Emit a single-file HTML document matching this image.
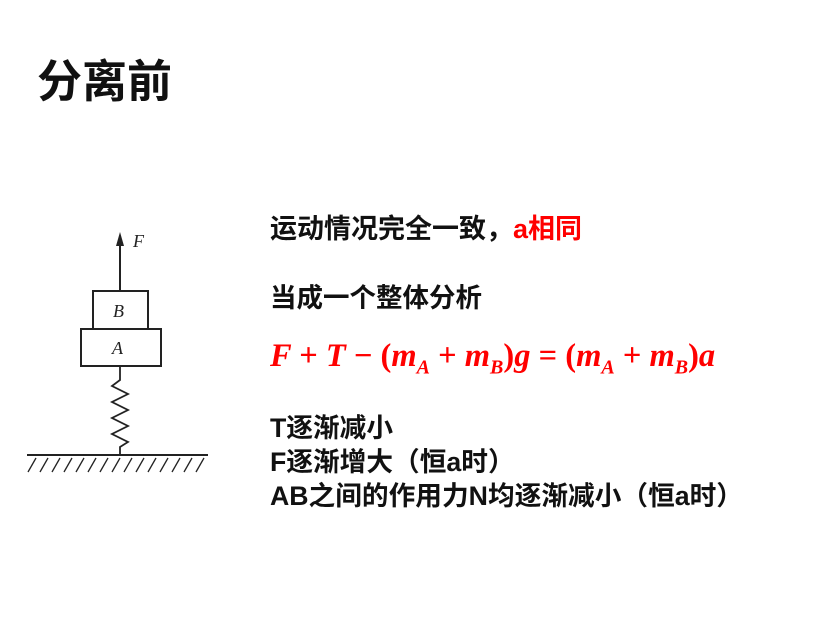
<!DOCTYPE html>
<html><head><meta charset="utf-8"><style>
body{margin:0;width:838px;height:624px;background:#fff;position:relative;overflow:hidden;font-family:"Liberation Sans","Noto Sans CJK SC",sans-serif;}
.t{position:absolute;white-space:nowrap;font-weight:bold;color:#111;}
.m{font-family:"Liberation Serif",serif;font-style:italic;font-weight:bold;color:#f00;}
</style></head><body>
<div class="t" style="left:37px;top:45px;font-size:45px;">分离前</div>
<div class="t" style="left:270px;top:207px;font-size:27px;">运动情况完全一致，<span style="color:#f00">a相同</span></div>
<div class="t" style="left:270px;top:276px;font-size:26.5px;">当成一个整体分析</div>
<div class="t m" style="left:270px;top:338px;font-size:32.5px;">F <span style="font-style:normal">+</span> T <span style="font-style:normal">−</span> <span style="font-style:normal">(</span>m<sub style="font-size:20px">A</sub> <span style="font-style:normal">+</span> m<sub style="font-size:20px">B</sub><span style="font-style:normal">)</span>g <span style="font-style:normal">=</span> <span style="font-style:normal">(</span>m<sub style="font-size:20px">A</sub> <span style="font-style:normal">+</span> m<sub style="font-size:20px">B</sub><span style="font-style:normal">)</span>a</div>
<div class="t" style="left:270px;top:411px;font-size:26.7px;line-height:34px;">T逐渐减小<br>F逐渐增大（恒a时）<br>AB之间的作用力N均逐渐减小（恒a时）</div>
<svg width="838" height="624" style="position:absolute;left:0;top:0">
<g stroke="#222" stroke-width="2" fill="none">
<line x1="120" y1="291" x2="120" y2="240"/>
<rect x="93" y="291" width="55" height="38" fill="#fff"/>
<rect x="81" y="329" width="80" height="37" fill="#fff"/>
<polyline points="120,366 120,380 112,386 128,394 112,402 128,410 112,418 128,426 112,434 128,442 120,447 120,455" stroke-width="1.8"/>
<line x1="27" y1="455" x2="208" y2="455"/>
<g stroke-width="1.3">
<line x1="36" y1="458" x2="28" y2="472"/><line x1="48" y1="458" x2="40" y2="472"/><line x1="60" y1="458" x2="52" y2="472"/><line x1="72" y1="458" x2="64" y2="472"/><line x1="84" y1="458" x2="76" y2="472"/><line x1="96" y1="458" x2="88" y2="472"/><line x1="108" y1="458" x2="100" y2="472"/><line x1="120" y1="458" x2="112" y2="472"/><line x1="132" y1="458" x2="124" y2="472"/><line x1="144" y1="458" x2="136" y2="472"/><line x1="156" y1="458" x2="148" y2="472"/><line x1="168" y1="458" x2="160" y2="472"/><line x1="180" y1="458" x2="172" y2="472"/><line x1="192" y1="458" x2="184" y2="472"/><line x1="204" y1="458" x2="196" y2="472"/>
</g></g>
<polygon points="120,232 116,246 124,246" fill="#222"/>
<g font-family="Liberation Serif,serif" font-style="italic" font-size="18" fill="#222">
<text x="133" y="247">F</text><text x="113" y="317">B</text><text x="112" y="354">A</text></g>
</svg>
</body></html>
